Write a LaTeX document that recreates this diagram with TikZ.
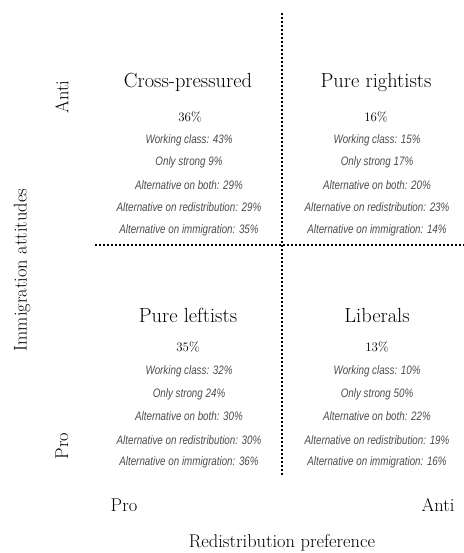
\documentclass[tikz,border=0pt]{standalone}
\usepackage{fontspec}
\newfontfamily\statfont{Liberation Sans}[FakeStretch=0.8]

\tikzset{
  quadtitle/.style={font=\fontsize{20.5}{24}\selectfont},
  share/.style={font=\fontsize{13}{15}\selectfont},
  stat/.style={font=\statfont\itshape\fontsize{12.3}{14}\selectfont, text=black!70},
  axislabel/.style={font=\fontsize{18.5}{22}\selectfont},
  divider/.style={line width=2.8bp, dash pattern=on 2bp off 2bp},
}

\begin{document}
\begin{tikzpicture}[x=1bp,y=-1bp]
\useasboundingbox (0,0) rectangle (464,553);

% dividing lines
\coordinate (vtop) at (282,13);
\coordinate (vbot) at (282,475);
\coordinate (hleft) at (95,245);
\coordinate (hright) at (464,245);
\draw[divider] (vtop) -- (vbot);
\draw[divider] (hleft) -- (hright);

% cross-pressured
\node[quadtitle] (cp) at (188,82) {Cross-pressured};
\node[share] (cp-share) at (190,117) {36\%};
\node[stat] (cp-wc) at (189,140) {Working class: 43\%};
\node[stat] (cp-os) at (189,162) {Only strong 9\%};
\node[stat] (cp-both) at (189,185) {Alternative on both: 29\%};
\node[stat] (cp-red) at (189,207) {Alternative on redistribution: 29\%};
\node[stat] (cp-imm) at (189,230) {Alternative on immigration: 35\%};

% pure rightists
\node[quadtitle] (pr) at (376,82) {Pure rightists};
\node[share] (pr-share) at (376,117) {16\%};
\node[stat] (pr-wc) at (377,140) {Working class: 15\%};
\node[stat] (pr-os) at (377,162) {Only strong 17\%};
\node[stat] (pr-both) at (377,185) {Alternative on both: 20\%};
\node[stat] (pr-red) at (377,207) {Alternative on redistribution: 23\%};
\node[stat] (pr-imm) at (377,230) {Alternative on immigration: 14\%};

% pure leftists
\node[quadtitle] (pl) at (188,315) {Pure leftists};
\node[share] (pl-share) at (188,347) {35\%};
\node[stat] (pl-wc) at (189,371) {Working class: 32\%};
\node[stat] (pl-os) at (189,394) {Only strong 24\%};
\node[stat] (pl-both) at (189,416) {Alternative on both: 30\%};
\node[stat] (pl-red) at (189,440) {Alternative on redistribution: 30\%};
\node[stat] (pl-imm) at (189,462) {Alternative on immigration: 36\%};

% liberals
\node[quadtitle] (lib) at (377,315) {Liberals};
\node[share] (lib-share) at (377,347) {13\%};
\node[stat] (lib-wc) at (377,371) {Working class: 10\%};
\node[stat] (lib-os) at (377,394) {Only strong 50\%};
\node[stat] (lib-both) at (377,416) {Alternative on both: 22\%};
\node[stat] (lib-red) at (377,440) {Alternative on redistribution: 19\%};
\node[stat] (lib-imm) at (377,462) {Alternative on immigration: 16\%};

% axis labels
\node[axislabel, rotate=90] (imm-anti) at (62,97) {Anti};
\node[axislabel, rotate=90] (imm-pro) at (62,446) {Pro};
\node[axislabel, rotate=90] (imm-title) at (22,270) {Immigration attitudes};
\node[axislabel] (red-pro) at (124,505) {Pro};
\node[axislabel] (red-anti) at (438,505) {Anti};
\node[axislabel] (red-title) at (282,543) {Redistribution preference};

\end{tikzpicture}
\end{document}
